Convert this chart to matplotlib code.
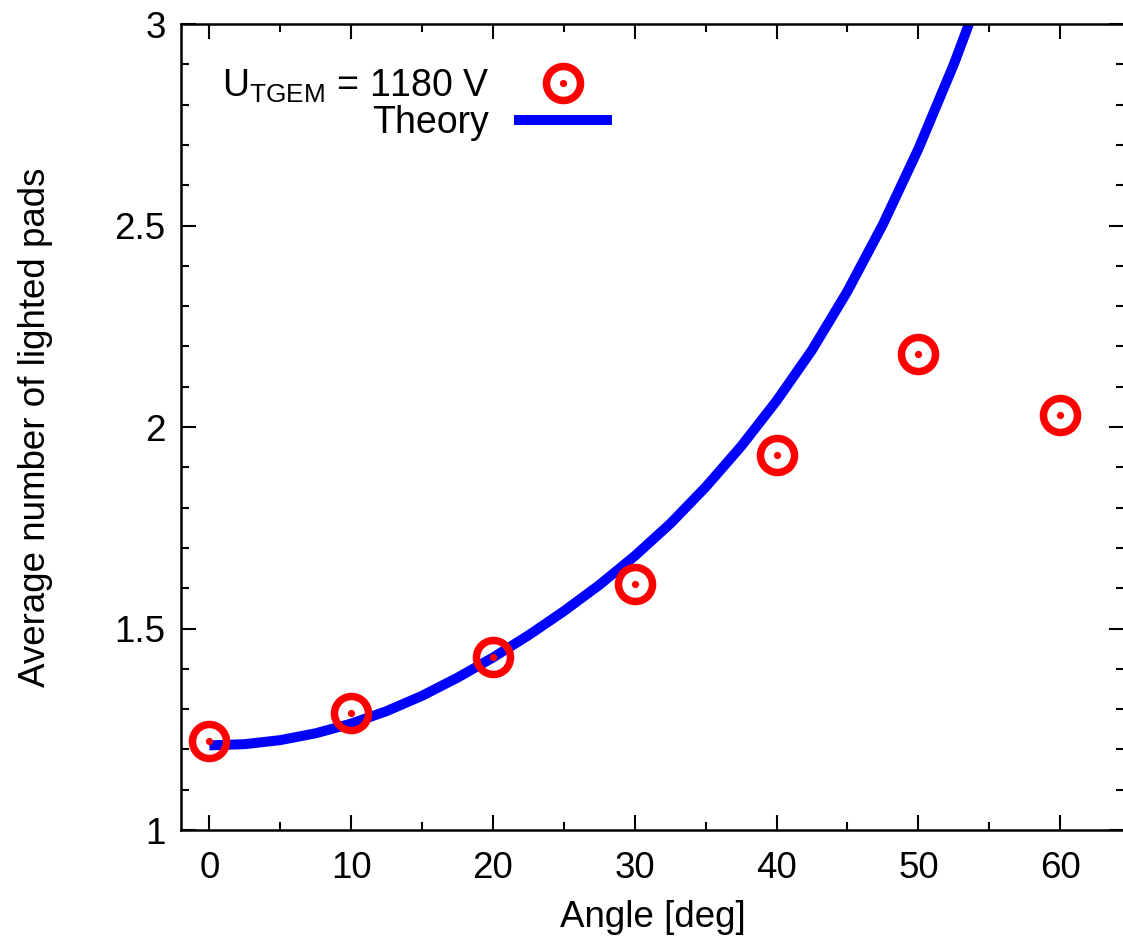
import numpy as np
import matplotlib
matplotlib.use("Agg")
import matplotlib.pyplot as plt
from matplotlib.legend_handler import HandlerTuple

plt.rcParams['font.family'] = ['Liberation Sans', 'DejaVu Sans']

# measured points
angle = [0, 10, 20, 30, 40, 50, 60]
pads = [1.22, 1.29, 1.43, 1.61, 1.93, 2.18, 2.03]

# theory curve
theory_angle = [0, 2.5, 5, 7.5, 10, 12.5, 15, 17.5, 20, 22.5, 25, 27.5, 30,
                32.5, 35, 37.5, 40, 42.5, 45, 47.5, 50, 52.5, 55]
theory_pads = [1.210, 1.213, 1.223, 1.240, 1.264, 1.295, 1.333, 1.378, 1.428,
               1.483, 1.543, 1.608, 1.680, 1.760, 1.851, 1.952, 2.065, 2.191,
               2.337, 2.503, 2.690, 2.900, 3.135]

xticks = [0, 10, 20, 30, 40, 50, 60]
yticks = [1, 1.5, 2, 2.5, 3]
yticklabels = ['1', '1.5', '2', '2.5', '3']

fig = plt.figure(figsize=(11.23, 9.41), dpi=100)
ax = fig.add_axes([181 / 1123, 111 / 941, 943 / 1123, 806 / 941])

line, = ax.plot(theory_angle, theory_pads, color='#0000ff', lw=7.2,
                solid_capstyle='butt', solid_joinstyle='round', zorder=2)
ring, = ax.plot(angle, pads, 'o', ms=24.5, mfc='none', mec='#ff0000', mew=5.4,
                ls='none', zorder=3)
dot, = ax.plot(angle, pads, 'o', ms=5.2, color='#ff0000', mew=0, ls='none',
               zorder=3)

ax.set_xlim(-2, 64.5)
ax.set_ylim(1, 3)
ax.set_xticks(xticks)
ax.set_xticks(np.arange(0, 65, 5), minor=True)
ax.set_yticks(yticks)
ax.set_yticklabels(yticklabels)
ax.set_yticks(np.arange(1, 3.01, 0.1), minor=True)
ax.tick_params(which='both', direction='in', top=True, right=True,
               labelsize=26.5, width=1.5, colors='black')
ax.tick_params(which='major', length=11)
ax.tick_params(which='minor', length=6)
ax.tick_params(axis='x', which='major', pad=15)
ax.tick_params(axis='y', which='major', pad=11)
for s in ax.spines.values():
    s.set_linewidth(1.8)

ax.set_xlabel('Angle [deg]', fontsize=26.5, labelpad=10)
ax.set_ylabel('Average number of lighted pads', fontsize=26.5, labelpad=44)

leg = ax.legend([(ring, dot), line],
                [r'U$_\mathregular{TGEM}$ = 1180 V', 'Theory'],
                handler_map={tuple: HandlerTuple(ndivide=1)},
                markerfirst=False, frameon=False, fontsize=27,
                loc='upper left', bbox_to_anchor=(0.043, 0.946),
                handlelength=2.6, handletextpad=0.67, labelspacing=0.0,
                borderpad=0, borderaxespad=0)

fig.savefig('out.png', dpi=100)
